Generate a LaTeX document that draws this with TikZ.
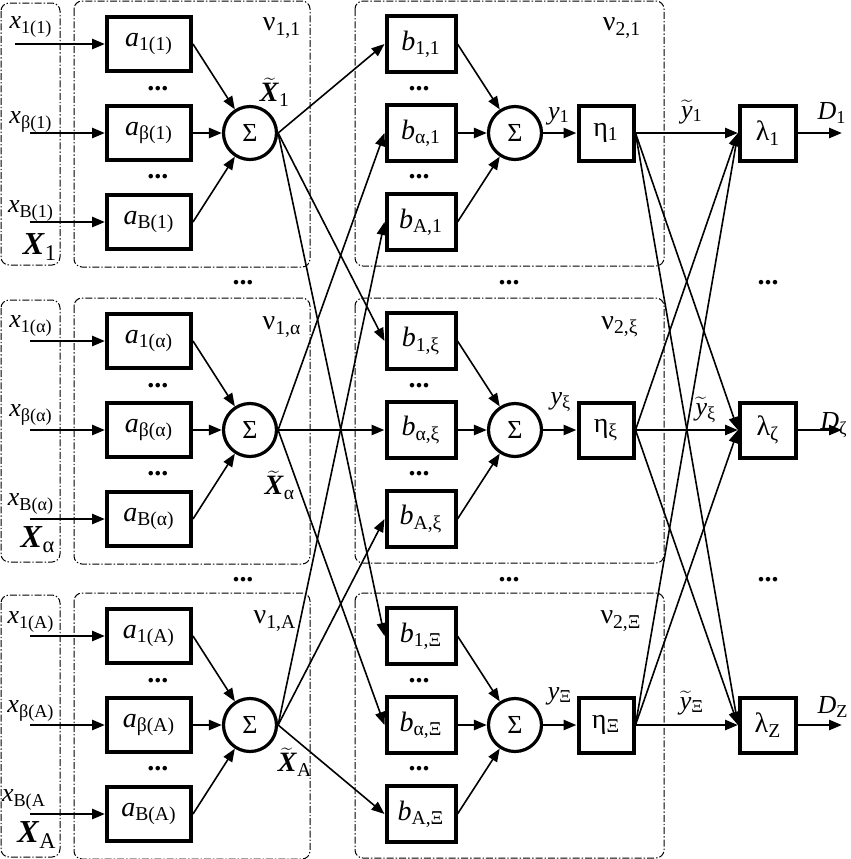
\documentclass[tikz,border=0pt]{standalone}
\usepackage{fontspec}
\setmainfont{Liberation Serif}
\usetikzlibrary{arrows.meta}
\newcommand{\sbs}[1]{\textsubscript{#1}}
\newcommand{\tld}[1]{\ensuremath{\widetilde{\mbox{#1}}}}
\begin{document}
\begin{tikzpicture}[x=0.5pt,y=-0.5pt,
  >={Triangle[length=6.5pt,width=5pt]},
  ablk/.style={draw,line width=2pt,minimum width=42pt,minimum height=27pt,inner sep=0pt,font=\fontsize{14}{16}\selectfont},
  bblk/.style={ablk,minimum width=34.5pt,minimum height=28pt},
  eblk/.style={ablk,minimum width=27.5pt,minimum height=27.5pt},
  lblk/.style={ablk,minimum width=28pt,minimum height=27.5pt},
  sumc/.style={draw,circle,line width=1.6pt,minimum size=26.5pt,inner sep=0pt,font=\fontsize{13}{15}\selectfont},
  lnk/.style={->,line width=0.8pt},
  lnkb/.style={->,line width=1.3pt},
  grp/.style={draw,line width=0.5pt,rounded corners=4pt,dash pattern=on 3.5pt off 1pt on 0.7pt off 1pt},
  lbl/.style={inner sep=0pt,font=\fontsize{13}{15}\selectfont},
  nlbl/.style={inner sep=0pt,font=\fontsize{14}{16}\selectfont},
  xlbl/.style={inner sep=0pt,font=\fontsize{16}{18}\selectfont},
  dts/.style={inner sep=0pt,font=\fontsize{14}{16}\selectfont\bfseries},
]
\useasboundingbox (0,0) rectangle (851,859);
% containers
\foreach \g in {133,430,725}{
  \draw[grp] (1,\g-130) rectangle (60,\g+132);
  \draw[grp] (74,\g-132) rectangle (310,\g+134);
  \draw[grp] (355,\g-132) rectangle (664,\g+133);
}
% layer 1 boxes
\node[ablk] (a11) at (149,44)  {\textit{a}\sbs{1(1)}};
\node[ablk] (a12) at (149,133) {\textit{a}\sbs{β(1)}};
\node[ablk] (a13) at (149,222) {\textit{a}\sbs{B(1)}};
\node[ablk] (a21) at (149,341) {\textit{a}\sbs{1(α)}};
\node[ablk] (a22) at (149,430) {\textit{a}\sbs{β(α)}};
\node[ablk] (a23) at (149,519) {\textit{a}\sbs{B(α)}};
\node[ablk] (a31) at (149,636) {\textit{a}\sbs{1(A)}};
\node[ablk] (a32) at (149,725) {\textit{a}\sbs{β(A)}};
\node[ablk] (a33) at (149,814) {\textit{a}\sbs{B(A)}};
\node[sumc] (s11) at (250,133) {Σ};
\node[sumc] (s12) at (250,430) {Σ};
\node[sumc] (s13) at (250,725) {Σ};
% layer 2 boxes
\node[bblk] (b11) at (421,44)  {\textit{b}\sbs{1,1}};
\node[bblk] (b12) at (421,133) {\textit{b}\sbs{α,1}};
\node[bblk] (b13) at (421,222) {\textit{b}\sbs{A,1}};
\node[bblk] (b21) at (421,341) {\textit{b}\sbs{1,ξ}};
\node[bblk] (b22) at (421,430) {\textit{b}\sbs{α,ξ}};
\node[bblk] (b23) at (421,519) {\textit{b}\sbs{A,ξ}};
\node[bblk] (b31) at (421,636) {\textit{b}\sbs{1,Ξ}};
\node[bblk] (b32) at (421,725) {\textit{b}\sbs{α,Ξ}};
\node[bblk] (b33) at (421,814) {\textit{b}\sbs{A,Ξ}};
\node[sumc] (s21) at (515,133) {Σ};
\node[sumc] (s22) at (515,430) {Σ};
\node[sumc] (s23) at (515,725) {Σ};
\node[eblk] (e1) at (606,133) {η\sbs{1}};
\node[eblk] (e2) at (606,430) {η\sbs{ξ}};
\node[eblk] (e3) at (606,725) {η\sbs{Ξ}};
% layer 3
\node[lblk] (l1) at (768,133) {λ\sbs{1}};
\node[lblk] (l2) at (768,430) {λ\sbs{ζ}};
\node[lblk] (l3) at (768,725) {λ\sbs{Z}};
% input / output points
\coordinate (i11) at (15,44);
\coordinate (i12) at (30,133);
\coordinate (i13) at (30,222);
\coordinate (i21) at (30,341);
\coordinate (i22) at (30,430);
\coordinate (i23) at (30,519);
\coordinate (i31) at (30,636);
\coordinate (i32) at (30,725);
\coordinate (i33) at (30,814);
\coordinate (o1) at (842,133);
\coordinate (o2) at (842,430);
\coordinate (o3) at (842,725);
% connectors
\foreach \g in {1,2,3}{
  \foreach \r in {1,2,3}{
    \draw[lnkb] (i\g\r) -- (a\g\r);
  }
  \draw[lnk] (a\g1.east) -- (s1\g);
  \draw[lnkb] (a\g2) -- (s1\g);
  \draw[lnk] (a\g3.east) -- (s1\g);
  \draw[lnk] (b\g1.east) -- (s2\g);
  \draw[lnkb] (b\g2) -- (s2\g);
  \draw[lnk] (b\g3.east) -- (s2\g);
  \draw[lnkb] (s2\g) -- (e\g);
  \draw[lnkb] (l\g) -- (o\g);
}
\draw[lnk] (s11.east) -- (b11.west);
\draw[lnk] (s11.east) -- (b21.west);
\draw[lnk] (s11.east) -- (b31.west);
\draw[lnk] (s12.east) -- (b12.west);
\draw[lnkb] (s12.east) -- (b22.west);
\draw[lnk] (s12.east) -- (b32.west);
\draw[lnk] (s13.east) -- (b13.west);
\draw[lnk] (s13.east) -- (b23.west);
\draw[lnk] (s13.east) -- (b33.west);
\draw[lnkb] (e1.east) -- (l1.west);
\draw[lnk] (e1.east) -- (l2.west);
\draw[lnk] (e1.east) -- (l3.west);
\draw[lnk] (e2.east) -- (l1.west);
\draw[lnkb] (e2.east) -- (l2.west);
\draw[lnk] (e2.east) -- (l3.west);
\draw[lnk] (e3.east) -- (l1.west);
\draw[lnk] (e3.east) -- (l2.west);
\draw[lnkb] (e3.east) -- (l3.west);
% input labels
\node[lbl] (tx11) at (31,27)  {\textit{x}\sbs{1(1)}};
\node[lbl] (tx12) at (31,122) {\textit{x}\sbs{β(1)}};
\node[lbl] (tx13) at (31,211) {\textit{x}\sbs{B(1)}};
\node[lbl] (tx21) at (31,326) {\textit{x}\sbs{1(α)}};
\node[lbl] (tx22) at (31,415) {\textit{x}\sbs{β(α)}};
\node[lbl] (tx23) at (31,504) {\textit{x}\sbs{B(α)}};
\node[lbl] (tx31) at (31,622) {\textit{x}\sbs{1(A)}};
\node[lbl] (tx32) at (31,711) {\textit{x}\sbs{β(A)}};
\node[lbl] (tx33) at (24,800) {\textit{x}\sbs{B(A}};
\node[xlbl] (tX1) at (40,247) {\textbf{\textit{X}}\sbs{1}};
\node[xlbl] (tX2) at (38,540) {\textbf{\textit{X}}\sbs{α}};
\node[xlbl] (tX3) at (37,835) {\textbf{\textit{X}}\sbs{A}};
% nu labels
\node[nlbl] (n11) at (282,28)  {ν\sbs{1,1}};
\node[nlbl] (n12) at (282,327) {ν\sbs{1,α}};
\node[nlbl] (n13) at (275,621) {ν\sbs{1,A}};
\node[nlbl] (n21) at (622,28)  {ν\sbs{2,1}};
\node[nlbl] (n22) at (620,327) {ν\sbs{2,ξ}};
\node[nlbl] (n23) at (621,621) {ν\sbs{2,Ξ}};
% X tilde labels
\node[nlbl] (tXt1) at (275,92)  {\tld{\textbf{\textit{X}}}\sbs{1}};
\node[nlbl] (tXt2) at (280,485) {\tld{\textbf{\textit{X}}}\sbs{α}};
\node[nlbl] (tXt3) at (295,762) {\tld{\textbf{\textit{X}}}\sbs{A}};
% y labels
\node[lbl] (ty1) at (559,116) {\textit{y}\sbs{1}};
\node[lbl] (ty2) at (561,402) {\textit{y}\sbs{ξ}};
\node[lbl] (ty3) at (560,696) {\textit{y}\sbs{Ξ}};
\node[lbl] (tyt1) at (692,112) {\tld{\textit{y}}\sbs{1}};
\node[lbl] (tyt2) at (706,410) {\tld{\textit{y}}\sbs{ξ}};
\node[lbl] (tyt3) at (692,703) {\tld{\textit{y}}\sbs{Ξ}};
\node[lbl] (tD1) at (832,113) {\textit{D}\sbs{1}};
\node[lbl] (tD2) at (834,425) {\textit{D}\sbs{ζ}};
\node[lbl] (tD3) at (833,707) {\textit{D}\sbs{Z}};
% dots
\foreach \g [count=\k] in {133,430,725}{
  \node[dts] (da\k u) at (158,\g-44) {...};
  \node[dts] (da\k d) at (158,\g+44) {...};
  \node[dts] (db\k u) at (419,\g-44) {...};
  \node[dts] (db\k d) at (419,\g+44) {...};
}
\foreach \y [count=\k] in {283,580}{
  \node[dts] (dg1\k) at (243,\y) {...};
  \node[dts] (dg2\k) at (509,\y) {...};
  \node[dts] (dg3\k) at (768,\y) {...};
}
\end{tikzpicture}
\end{document}
